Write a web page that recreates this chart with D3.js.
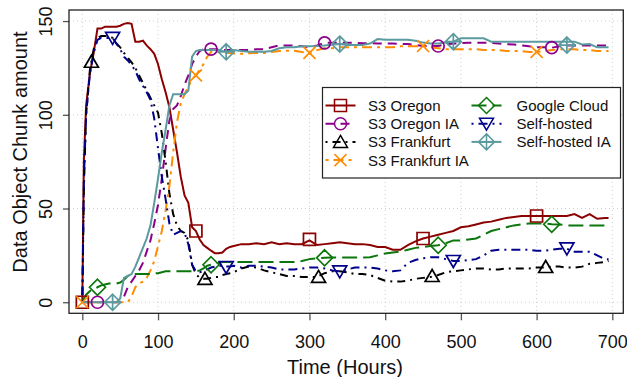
<!DOCTYPE html>
<html>
<head>
<meta charset="utf-8">
<script src="https://cdn.jsdelivr.net/npm/d3@7"></script>
<style>
  body { margin: 0; background: #fff; }
  text { font-family: "Liberation Sans", Arial, Helvetica, sans-serif; fill: #111; }
</style>
</head>
<body>
<svg id="chart" width="627" height="377"></svg>
<script>
// sample times (hours): every 5h for the first 200h, then every 10h
var hours = [0,2,5,10,15,20,25,30,35,40,
  45,50,55,60,65,70,75,80,85,90,
  95,100,105,110,115,120,125,130,135,140,
  145,150,155,160,165,170,175,180,185,190,
  195,200,210,220,230,240,250,260,270,280,
  290,300,310,320,330,340,350,360,370,380,
  390,400,410,420,430,440,450,460,470,480,
  490,500,510,520,530,540,550,560,570,580,
  590,600,610,620,630,640,650,660,670,680,690,695];

var s3Oregon = [0,75,105,122,133,146,146,147,147,147,
  147,147.5,148.5,149,148.5,139,139,139.5,137,135,
  132.5,127,119,112,104,92,80,67,57,53,
  40,38,33.5,30.5,29,27.5,26.2,26.2,26.5,28.5,
  29.5,30,31,31,31.5,31,32,31,31.5,31,
  31,33,30.5,31,31.5,32,31.5,31,31,30.5,
  29.5,29.5,28,28,30.5,32.5,34,35,36,37,
  38,40,40.5,41.5,42.5,43,44,45,45.5,46,
  46,46,46,46,46,46,47,45,47,44.5,45,45];

var s3OregonIA = [0,0,0,0,0,0,0,0,0,0,
  0,0,3,8,11,14,17,21,27,33,
  42,52,66,82,97,103,105,110,116,121,
  127,131,134,135,135,135,135,135,134.5,134.5,
  134.5,134.5,134.5,134.5,135,135,136,137,137,137,
  136.5,136,137,138.4,138.4,138.4,138.4,138.4,138.2,138.2,
  138,138,138,137.7,137.7,137.2,136.7,136.7,136.7,137.5,
  138,138.2,138.4,138.4,138.4,138.4,138,137.7,137.5,137,
  136.5,136,136,135.8,136.5,137,137,137,137,137,137,137];

var s3Frankfurt = [0,60,100,124,135,141,142,142,142,141,
  138,136,133,130.5,128,125,121,117,113,109,
  105,101,90,75,58,47,41,38,37,33,
  20,15,13,12.5,12.5,13,13.5,13.5,14.5,15,
  15.5,16,18,19,18.5,17,16,15,14,14,
  13.5,13.5,13.5,15.5,16.5,16.5,16,15,15,14.5,
  13,11.5,11,11,11.5,12.5,13,13.5,14.5,16,
  16.5,17,17.5,18,18,17.5,17.5,18,18,18,
  18,18.5,18.5,19,19,18.5,18.5,19,20.5,21,21.5,22];

var s3FrankfurtIA = [0,0,0,0,0,0,0,0,0,0,
  0,0,0,0,3,8,10,11,13,17,
  22,30,38,49,62,80,96,106,111,115,
  119,121,124,127,131,133.5,133.5,133.5,133,133,
  133,132.8,132.5,132.8,133,133,133.5,134,134.2,134.2,
  133.5,133,134.5,135.5,135.5,136,136,136,136,136,
  136,136,136,136.5,136.5,136.5,136.5,136,135.5,135,
  135,135,135,135,134.5,134.5,134.5,134,134,134,
  133.5,133.5,134,134.5,135,135,135,134.5,134.5,134,134,134];

var googleCloud = [0,2,4,6,7,8,9,9.5,10,10,
  10,10.5,12,14,14.5,15,15,15,15,15,
  15.5,15.5,16,16.5,16.5,16.5,16.5,16.5,16.5,16.5,
  16.5,16.5,17,18,19.5,20,20.5,21,21.5,21.5,
  21.5,21.5,21.5,21.5,21.5,21.5,21.5,21.5,21.5,21.5,
  22,23,23.5,23.7,23.9,23.9,23.9,23.9,23.9,24,
  25,26,26.5,27,28,29,29.5,30,30.4,31.5,
  33,33,33.5,34,36,38,39,40,41,41.5,
  42,42,42,41.6,41.5,41,41,41,41,41,41,41];

var selfHosted = [0,65,100,122,133,140,141,141,141,141,
  138,135,131,129,126.5,123.5,119,115.5,112,108,
  98,82,67,55,42,36,37,38,37,31,
  20,16.5,16,16.5,17.5,18.5,19,19.5,19.5,19,
  19,19.5,18.5,19.5,19.5,19,18.5,17.5,17.5,17.5,
  18,18.5,18.5,18,17,16.5,17.5,18.5,18.5,18.5,
  18,17,16.5,17,21,22.5,23.5,24,24,23,
  22,22,22.5,23,25,27.5,28,28,28,28,
  28,27.5,27.5,28,28.5,28.5,27,27,27,25,23,23];

var selfHostedIA = [0,0,0,0,0,0,0,0,0,0,
  0,2,13,14,15,19,24,29,34,41,
  53,66,80,92,105,111,111,111,111,113,
  131,134,134.5,134.5,134.5,134.5,134.5,134.5,134,133.6,
  134,134.5,134,133.6,133.6,133.6,134,135.5,136,136,
  136.5,136.5,136.7,137,137.5,137.7,137.2,137.2,137.2,138,
  140.4,140,140,140,140,139.5,138.5,138,138,138.5,
  139,140.8,140.8,140.8,140.8,139,139,139,139,139,
  139,139,139,139,139,139,139,137.5,137.7,136,136,136];

// marker positions (every 150h, each series with its own offset)
var s3OregonMarkH = [0,150,300,450,600],        s3OregonMarkV = [0,38,33.5,34,46];
var s3OregonIAMarkH = [20,170,320,470,620],     s3OregonIAMarkV = [0,135,138.4,136.7,135.8];
var s3FrankfurtMarkH = [12,162,312,462,612],    s3FrankfurtMarkV = [128.3,12.5,13.5,14,18.8];
var s3FrankfurtIAMarkH = [0,150,300,450,600],   s3FrankfurtIAMarkV = [0,121,133,136.7,133.6];
var googleMarkH = [20,170,320,470,620],         googleMarkV = [8,20,23.7,30.4,41.6];
var selfHostedMarkH = [40,190,340,490,640],     selfHostedMarkV = [141,18.8,16.5,22,28.7];
var selfHostedIAMarkH = [40,190,340,490,640],   selfHostedIAMarkV = [0,133.6,137.7,139,137.2];

var xTicks = [0,100,200,300,400,500,600,700];
var yTicks = [0,50,100,150];

var lineSpecs = [
  {name: "S3 Oregon", values: s3Oregon, markH: s3OregonMarkH, markV: s3OregonMarkV, color: "#8b0000", dash: null, shape: "square"},
  {name: "S3 Oregon IA", values: s3OregonIA, markH: s3OregonIAMarkH, markV: s3OregonIAMarkV, color: "#8b008b", dash: "9,6", shape: "circle"},
  {name: "S3 Frankfurt", values: s3Frankfurt, markH: s3FrankfurtMarkH, markV: s3FrankfurtMarkV, color: "#000000", dash: "2,5,8,5", shape: "triUp"},
  {name: "S3 Frankfurt IA", values: s3FrankfurtIA, markH: s3FrankfurtIAMarkH, markV: s3FrankfurtIAMarkV, color: "#ff8c00", dash: "3,5,10,5", shape: "cross"},
  {name: "Google Cloud", values: googleCloud, markH: googleMarkH, markV: googleMarkV, color: "#0b760b", dash: "15,6", shape: "diamond"},
  {name: "Self-hosted", values: selfHosted, markH: selfHostedMarkH, markV: selfHostedMarkV, color: "#00008b", dash: "2,5,9,5", shape: "triDown"},
  {name: "Self-hosted IA", values: selfHostedIA, markH: selfHostedIAMarkH, markV: selfHostedIAMarkV, color: "#5b9a9e", dash: null, shape: "diamondPlus"}
];

// symbol outlines, centred on 0,0
var shapes = {
  square: "M-6,-6H6V6H-6Z",
  circle: "M-6,0A6,6 0 1,0 6,0A6,6 0 1,0 -6,0Z",
  triUp: "M0,-6.5L7,5.5L-7,5.5Z",
  triDown: "M0,6.5L7,-5.5L-7,-5.5Z",
  cross: "M-6,-6L6,6M-6,6L6,-6",
  diamond: "M0,-8L8,0L0,8L-8,0Z",
  diamondPlus: "M0,-8L8,0L0,8L-8,0ZM0,-8V8M-8,0H8"
};

var svg = d3.select("#chart");
var box = {left: 69, right: 623.3, top: 10, bottom: 313.3};

var x = d3.scaleLinear().domain([-17.6, 714.5]).range([box.left, box.right]);
var y = d3.scaleLinear().domain([-5.9, 155.9]).range([box.bottom, box.top]);

// dotted grid
svg.append("g").selectAll("line").data(xTicks).enter().append("line")
  .attr("x1", d => x(d)).attr("x2", d => x(d))
  .attr("y1", box.top).attr("y2", box.bottom)
  .attr("stroke", "#cfcfcf").attr("stroke-dasharray", "1,3");
svg.append("g").selectAll("line").data(yTicks).enter().append("line")
  .attr("x1", box.left).attr("x2", box.right)
  .attr("y1", d => y(d)).attr("y2", d => y(d))
  .attr("stroke", "#cfcfcf").attr("stroke-dasharray", "1,3");

// axes
var xAxis = svg.append("g")
  .attr("transform", "translate(0," + box.bottom + ")")
  .call(d3.axisBottom(x).tickValues(xTicks).tickSize(7).tickFormat(d3.format("d")));
xAxis.select(".domain").remove();
xAxis.selectAll("line").attr("stroke", "#555").attr("stroke-width", 1.3);
xAxis.selectAll("text").attr("y", 35).attr("dy", null)
  .style("font-size", "18px").style("fill", "#111");

var yAxis = svg.append("g")
  .attr("transform", "translate(" + box.left + ",0)")
  .call(d3.axisLeft(y).tickValues(yTicks).tickSize(6).tickFormat(d3.format("d")));
yAxis.select(".domain").remove();
yAxis.selectAll("line").attr("stroke", "#555").attr("stroke-width", 1.3);
yAxis.selectAll("text")
  .attr("transform", "rotate(-90)")
  .attr("x", 0).attr("y", -17).attr("dy", null)
  .attr("text-anchor", "middle")
  .style("font-size", "18px").style("fill", "#111");

// titles
svg.append("text")
  .attr("x", 345).attr("y", 374)
  .attr("text-anchor", "middle")
  .style("font-size", "20px")
  .text("Time (Hours)");
svg.append("text")
  .attr("transform", "translate(26.5,152) rotate(-90)")
  .attr("text-anchor", "middle")
  .style("font-size", "20px")
  .text("Data Object Chunk amount");

// series lines
var line = d3.line()
  .x((d, i) => x(hours[i]))
  .y(d => y(d));

lineSpecs.forEach(function(s) {
  svg.append("path")
    .datum(s.values)
    .attr("d", line)
    .attr("fill", "none")
    .attr("stroke", s.color)
    .attr("stroke-width", 2)
    .attr("stroke-dasharray", s.dash);
});

// markers on top
lineSpecs.forEach(function(s) {
  svg.append("g").selectAll("path").data(s.markH).enter().append("path")
    .attr("transform", (d, i) => "translate(" + x(d) + "," + y(s.markV[i]) + ")")
    .attr("d", shapes[s.shape])
    .attr("fill", "none")
    .attr("stroke", s.color)
    .attr("stroke-width", 1.7);
});

// plot frame
svg.append("rect")
  .attr("x", box.left).attr("y", box.top)
  .attr("width", box.right - box.left).attr("height", box.bottom - box.top)
  .attr("fill", "none").attr("stroke", "#222").attr("stroke-width", 1.3);

// legend
var legend = svg.append("g");
legend.append("rect")
  .attr("x", 322.5).attr("y", 87.5).attr("width", 298).attr("height", 90.5)
  .attr("fill", "#fff").attr("stroke", "#222").attr("stroke-width", 1.2);

lineSpecs.forEach(function(s, i) {
  var col = i < 4 ? 0 : 1;
  var row = i < 4 ? i : i - 4;
  var cx = col === 0 ? 340.5 : 486.5;
  var cy = 105.5 + row * 18.2;
  var item = legend.append("g");
  item.append("line")
    .attr("x1", cx - 15).attr("x2", cx + 15)
    .attr("y1", cy).attr("y2", cy)
    .attr("stroke", s.color).attr("stroke-width", 2)
    .attr("stroke-dasharray", s.dash);
  item.append("path")
    .attr("transform", "translate(" + cx + "," + cy + ")")
    .attr("d", shapes[s.shape])
    .attr("fill", "none").attr("stroke", s.color).attr("stroke-width", 1.5);
  item.append("text")
    .attr("x", col === 0 ? 368 : 516.5)
    .attr("y", cy + 5.4)
    .style("font-size", "15px")
    .text(s.name);
});
</script>
</body>
</html>
